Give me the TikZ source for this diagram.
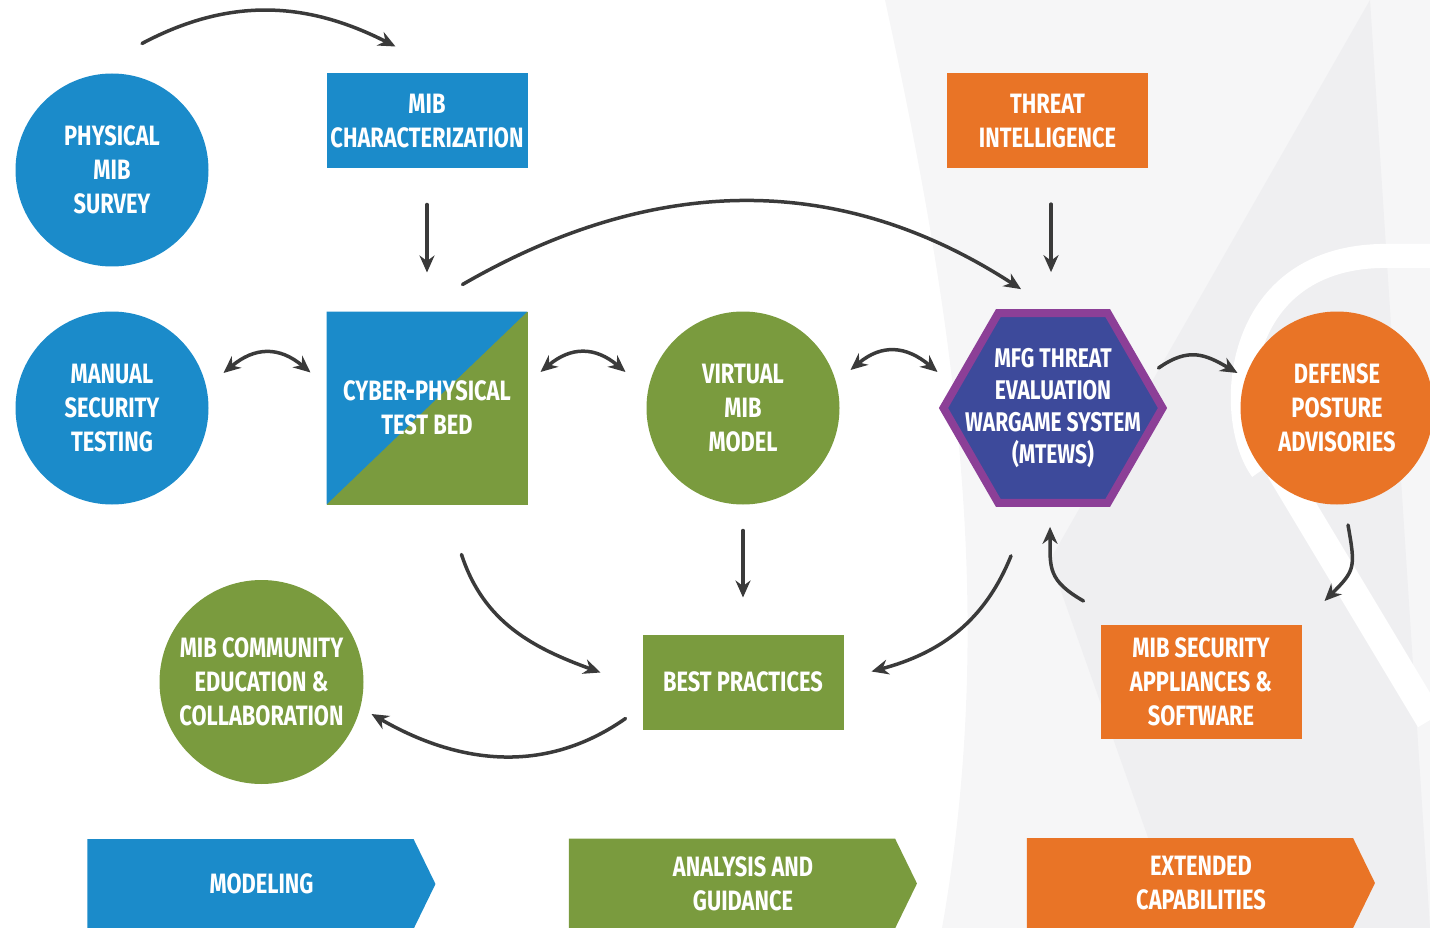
\documentclass[tikz,border=0pt]{standalone}
\usepackage{fontspec}
\setmainfont{Fira Sans}[FakeStretch=0.78]
\usetikzlibrary{positioning,arrows.meta,shapes.geometric,shapes.symbols}

\definecolor{mibblue}{HTML}{1B8BCA}
\definecolor{mibgreen}{HTML}{7A9B3E}
\definecolor{miborange}{HTML}{E97426}
\definecolor{hexfill}{HTML}{3D4A9B}
\definecolor{hexrim}{HTML}{8C3F97}
\definecolor{flowgray}{HTML}{3A3A3A}
\definecolor{bgone}{HTML}{F6F6F7}
\definecolor{bgtwo}{HTML}{EFEFF1}

\begin{document}
\begin{tikzpicture}[x=1pt, y=1pt,
lbl/.style={text=white, font=\fontsize{28}{34}\selectfont\bfseries, align=center, inner sep=0pt, outer sep=0pt},
roundnode/.style={lbl, circle, minimum size=193pt},
boxnode/.style={lbl, rectangle, minimum width=201pt, minimum height=95pt},
phase/.style={lbl, signal, signal to=east, signal pointer angle=128, minimum width=348pt, minimum height=90pt, xshift=-11pt},
flow/.style={draw=flowgray, line width=3.5pt, line cap=round, >={Stealth[length=17pt,width=15pt]}}
]
    \useasboundingbox (0,0) rectangle (1430,-928);

    %Background
    \fill[bgone] (885,0) .. controls (950,-300) and (1000,-600) .. (942,-928) -- (1430,-928) -- (1430,0) -- cycle;
    \fill[bgtwo] (1370,0) -- (1050,-560) -- (1180,-928) -- (1430,-928) -- cycle;
    \draw[white, line width=24pt] (1262,-470) .. controls (1225,-420) and (1230,-260) .. (1380,-256) -- (1430,-256);
    \draw[white, line width=28pt] (1280,-470) -- (1430,-720);

    %Nodes
    \node[roundnode, fill=mibblue]
        (phys)      at (112,-170)       {PHYSICAL\\MIB\\SURVEY};
    \node[roundnode, fill=mibblue]
        (manual)    [below=45pt of phys]    {MANUAL\\SECURITY\\TESTING};
    \node[boxnode, fill=mibgreen, minimum height=193pt,
        path picture={\fill[mibblue] (path picture bounding box.south west)
            -- (path picture bounding box.north west)
            -- (path picture bounding box.north east) -- cycle;}]
        (cyber)     [right=118pt of manual] {CYBER-PHYSICAL\\TEST BED};
    \node[roundnode, fill=mibgreen]
        (virtual)   [right=119pt of cyber]  {VIRTUAL\\MIB\\MODEL};
    \node[lbl, regular polygon, regular polygon sides=6, minimum size=219pt,
        inner sep=-30pt, draw=hexrim, line width=8pt, fill=hexfill,
        font=\fontsize{27}{32}\selectfont\bfseries]
        (mtews)     [right=104pt of virtual] {MFG THREAT\\EVALUATION\\WARGAME SYSTEM\\(MTEWS)};
    \node[roundnode, fill=miborange]
        (defense)   [right=78pt of mtews]   {DEFENSE\\POSTURE\\ADVISORIES};
    \node[boxnode, fill=mibblue]
        (mibchar)   [above=143pt of cyber]  {MIB\\CHARACTERIZATION};
    \node[boxnode, fill=miborange]
        (threat)    [above=145pt of mtews, xshift=-5.5pt] {THREAT\\INTELLIGENCE};
    \node[boxnode, fill=mibgreen]
        (bestpr)    [below=130pt of virtual] {BEST PRACTICES};
    \node[roundnode, fill=mibgreen, minimum size=204pt]
        (community) [left=279pt of bestpr]  {MIB COMMUNITY\\EDUCATION \&\\COLLABORATION};
    \node[boxnode, fill=miborange, minimum height=114pt]
        (mibsec)    [right=257pt of bestpr] {MIB SECURITY\\APPLIANCES \&\\SOFTWARE};

    %Phases
    \node[phase, fill=mibblue, label={[lbl, xshift=11pt]center:MODELING}]
        (modeling)  [below=55pt of community] {};
    \node[phase, fill=mibgreen, label={[lbl, xshift=11pt]center:{ANALYSIS AND\\GUIDANCE}}]
        (analysis)  [below=109pt of bestpr]   {};
    \node[phase, fill=miborange, label={[lbl, xshift=11pt]center:{EXTENDED\\CAPABILITIES}}]
        (extended)  [below=99pt of mibsec]    {};

    %Lines
    \draw[flow, ->]
        ([shift={(30,30)}]phys.north) to[out=28, in=153] ([shift={(-31.5,27)}]mibchar.north);
    \draw[flow, ->, shorten <=36pt, shorten >=39pt] (mibchar) -- (cyber);
    \draw[flow, ->]
        ([shift={(35.5,27)}]cyber.north) to[out=30, in=147] ([shift={(-32,24)}]mtews.north);
    \draw[flow, ->]
        ([shift={(3.5,-36)}]threat.south) -- ([shift={(-2,41)}]mtews.north);
    \draw[flow, <->]
        ([shift={(15,35)}]manual.east) to[out=40, in=140, looseness=1.2] ([shift={(-16,35.5)}]cyber.west);
    \draw[flow, <->]
        ([shift={(13,36)}]cyber.east) to[out=40, in=140, looseness=1.2] ([shift={(-21,36)}]virtual.west);
    \draw[flow, <->]
        ([shift={(11,38)}]virtual.east) to[out=40, in=140, looseness=1.2] ([shift={(-6,36)}]mtews.west);
    \draw[flow, ->]
        ([shift={(-4,40)}]mtews.east) to[out=35, in=150, looseness=1.2] ([shift={(-3,35)}]defense.west);
    \draw[flow, ->]
        ([shift={(11,-20.5)}]defense.south) to[out=-80, in=45, looseness=1.4] ([shift={(23,24)}]mibsec.north east);
    \draw[flow, ->]
        ([shift={(-17,24)}]mibsec.north west) to[out=150, in=-90, looseness=1.3] ([shift={(-3,-24)}]mtews.south);
    \draw[flow, ->]
        ([shift={(-42,-53)}]mtews.south) to[out=-112, in=15] ([shift={(28,10.5)}]bestpr.east);
    \draw[flow, ->, shorten <=26pt, shorten >=37pt] (virtual) -- (bestpr);
    \draw[flow, ->]
        ([shift={(34.5,-50)}]cyber.south) to[out=-72, in=160] ([shift={(-42,9.5)}]bestpr.west);
    \draw[flow, ->]
        ([shift={(-17,11)}]bestpr.south west) to[out=215, in=-30] ([shift={(8,-32)}]community.east);
\end{tikzpicture}
\end{document}
